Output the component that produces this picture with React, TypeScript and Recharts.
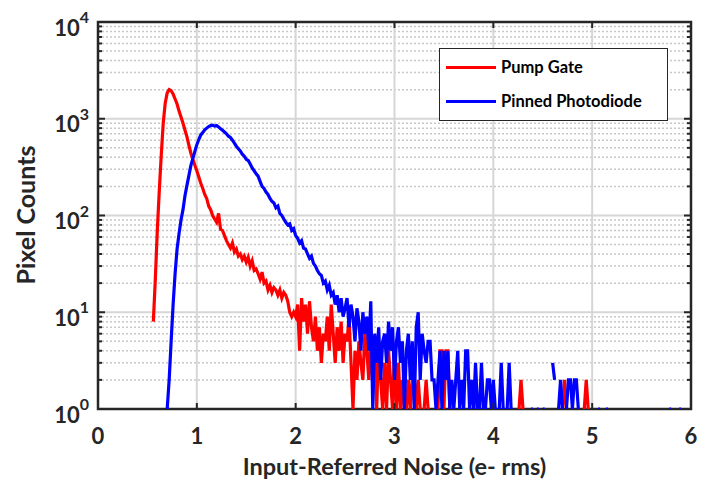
import React from "react";
import { LineChart, Line, XAxis, YAxis, CartesianGrid, Legend, ReferenceArea } from "recharts";

// histogram bins (e- rms), 0.02 wide
const binWidth = 0.02;
const pumpGateFirstBin = 0.56;
const photodiodeFirstBin = 0.7;
const lastBin = 5.9;

const seriesNames = ["Pump Gate", "Pinned Photodiode"];

// null = empty bin (no line drawn on the log axis)
const pumpGateCounts = [
  8, 22, 70, 180, 420, 900, 1450, 1850, 2000, 1950,
  1800, 1600, 1420, 1200, 1040, 900, 760, 650, 530, 440,
  380, 330, 290, 250, 215, 190, 165, 150, 125, 115,
  100, 92, 85, 105, 72, 70, 62, 55, 50, 46,
  52, 42, 45, 38, 40, 35, 38, 33, 37, 30,
  34, 27, 28, 25, 22, 26, 20, 21, 17, 19,
  16, 18, 17, 15, 17, 14, 16, 15, 13, 10,
  9, 10, 9, 12, 4, 14, 8, 12, 6, 13,
  7, 5, 9, 4, 7, 3, 6, 5, 9, 4,
  12, 6, 3, 7, 4, 8, 3, 6, 5, 9,
  3, 1, 4, 2, 5, 3, 2, 6, 4, 2,
  5, 2, 3, 1, 5, 2, 1, 3, 1, 4,
  2, 1, 4, 1, 3, 1, 2, 1, 1, 2,
  1, 2, 2, 1, 2, 1, null, 1, 2, 1,
  null, null, null, null, 1, 4, 4, 1, 4, 4,
  1, null, null, null, null, null, null, null, null, null,
  null, null, 1, 2, 1, null, null, null, null, null,
  null, null, null, null, null, null, null, null, null, null,
  null, null, null, null, null, 1, 2, 1, null, null,
  null, null, null, null, null, null, null, null, null, null,
  null, null, null, null, null, null, null, 1, 2, 1,
  null, null, null, null, null, null, null, null, 1, 2,
  1,
];

const photodiodeCounts = [
  1, 2, 5, 12, 25, 45, 65, 90, 115, 160,
  205, 260, 330, 390, 460, 540, 610, 680, 720, 770,
  800, 830, 850, 860, 840, 850, 820, 790, 760, 730,
  700, 660, 640, 600, 560, 520, 490, 465, 430, 410,
  380, 370, 340, 310, 290, 270, 255, 225, 200, 190,
  175, 165, 150, 140, 135, 120, 125, 105, 100, 92,
  85, 80, 82, 70, 73, 62, 58, 52, 55, 46,
  45, 40, 36, 38, 32, 30, 27, 25, 24, 20,
  21, 17, 19, 15, 16, 12, 15, 10, 14, 9,
  11, 14, 7, 12, 9, 5, 11, 8, 4, 10,
  6, 9, 4, 13, 1, 6, 3, 7, 2, 5,
  6, 3, 8, 4, 7, 2, 5, 7, 3, 5,
  1, 4, 6, 2, 5, 1, 7, 10, 2, 6,
  4, 3, 5, 5, 2, 2, 1, 2, 4, 1,
  4, 2, 4, 1, 2, 1, 2, 4, 1, 2,
  1, 4, 4, 1, 2, 1, 3, 1, 1, 3,
  1, 1, 2, 2, 1, 2, 1, null, 1, 3,
  1, null, 1, 3, 1, null, null, null, null, null,
  null, null, null, null, 1, 1, null, 1, 1, null,
  1, 1, null, null, null, 3, 2, null, 1, 2,
  1, null, 1, 2, 2, 1, 2, 2, 1, null,
  null, null, null, null, null, null, null, null, 1, 1,
  null, null, 1, 1, null, null, null, null, null, null,
  null, null, null, null, null, null, null, null, null, null,
  null, null, null, null, null, null, null, null, null, null,
  null, null, null, null, 1, 1, null, null, null, 1,
  1,
];

const xTicks = [0, 1, 2, 3, 4, 5, 6];
const yMajorTicks = [1, 10, 100, 1000, 10000];
const yMinorTicks = [
  2, 3, 4, 5, 6, 7, 8, 9,
  20, 30, 40, 50, 60, 70, 80, 90,
  200, 300, 400, 500, 600, 700, 800, 900,
  2000, 3000, 4000, 5000, 6000, 7000, 8000, 9000,
];

const nBins = Math.round((lastBin - pumpGateFirstBin) / binWidth) + 1;
const photodiodeOffset = Math.round((photodiodeFirstBin - pumpGateFirstBin) / binWidth);
const data = Array.from({ length: nBins }, (_, i) => ({
  x: Number((pumpGateFirstBin + i * binWidth).toFixed(2)),
  pump: pumpGateCounts[i] ?? null,
  pinned: photodiodeCounts[i - photodiodeOffset] ?? null,
}));

const ink = "#262626";
const font = "Lato, 'Open Sans', sans-serif";
const plotLeft = 98;
const plotRight = 691;
const plotTop = 22;
const plotBottom = 409;

const YTick = (props: any) => {
  const { y, payload } = props;
  const v = payload.value;
  const major = yMajorTicks.includes(v);
  const len = major ? 7 : 4;
  return (
    <g>
      <line x1={plotLeft} x2={plotLeft + len} y1={y} y2={y} stroke={ink} strokeWidth={2} />
      <line x1={plotRight - len} x2={plotRight} y1={y} y2={y} stroke={ink} strokeWidth={2} />
      {major && (
        <text x={89} y={y + 13.5} textAnchor="end" fill={ink} fontFamily={font} fontWeight={700} fontSize={22}>
          10
          <tspan dy={-12.5} fontSize={16}>
            {Math.round(Math.log10(v))}
          </tspan>
        </text>
      )}
    </g>
  );
};

const XTick = (props: any) => {
  const { x, payload } = props;
  return (
    <g>
      <line x1={x} x2={x} y1={plotBottom} y2={plotBottom - 6} stroke={ink} strokeWidth={2} />
      <line x1={x} x2={x} y1={plotTop} y2={plotTop + 6} stroke={ink} strokeWidth={2} />
      <text x={x} y={444} textAnchor="middle" fill={ink} fontFamily={font} fontWeight={700} fontSize={22}>
        {payload.value}
      </text>
    </g>
  );
};

const LegendBox = ({ payload }: any) => {
  const items = [...(payload || [])].sort(
    (a: any, b: any) => seriesNames.indexOf(a.value) - seriesNames.indexOf(b.value)
  );
  return (
    <div
      style={{
        width: 229,
        height: 73,
        boxSizing: "border-box",
        border: `1.5px solid ${ink}`,
        background: "#fff",
        padding: "1px 0 0 6px",
        fontFamily: font,
        fontWeight: 700,
        fontSize: 16.5,
        color: "#000",
      }}
    >
      {items.map((entry: any) => (
        <div key={entry.value} style={{ display: "flex", alignItems: "center", height: 34 }}>
          <span style={{ display: "inline-block", width: 50, height: 3, background: entry.color, marginRight: 5 }} />
          <span>{entry.value}</span>
        </div>
      ))}
    </div>
  );
};

export default function App() {
  return (
    <div style={{ position: "absolute", left: 0, top: 0, background: "#fff" }}>
      <LineChart width={711} height={489} data={data} margin={{ top: 22, right: 20, bottom: 0, left: 0 }}>
        <CartesianGrid vertical={false} horizontalValues={yMinorTicks} stroke="#c8c8c8" strokeDasharray="2 2" strokeWidth={1.5} />
        <CartesianGrid vertical={false} horizontalValues={yMajorTicks} stroke="#d6d6d6" strokeWidth={2} />
        <CartesianGrid horizontal={false} verticalValues={xTicks} stroke="#d6d6d6" strokeWidth={2} />
        <XAxis
          dataKey="x"
          type="number"
          domain={[0, 6]}
          ticks={xTicks}
          interval={0}
          tick={XTick}
          tickLine={false}
          axisLine={false}
          height={80}
          allowDataOverflow
          label={{
            value: "Input-Referred Noise (e- rms)",
            position: "insideBottom",
            offset: 14,
            fill: ink,
            fontSize: 23.5,
            fontWeight: 700,
            fontFamily: font,
          }}
        />
        <YAxis
          type="number"
          scale="log"
          domain={[1, 10000]}
          ticks={[...yMajorTicks, ...yMinorTicks]}
          interval={0}
          tick={YTick}
          tickLine={false}
          axisLine={false}
          width={98}
          allowDataOverflow
          label={{
            content: () => (
              <text
                transform="translate(35 215) rotate(-90)"
                textAnchor="middle"
                fill={ink}
                fontFamily={font}
                fontWeight={700}
                fontSize={25}
              >
                Pixel Counts
              </text>
            ),
          }}
        />
        <ReferenceArea x1={0} x2={6} y1={1} y2={10000} fill="none" stroke={ink} strokeWidth={2.5} ifOverflow="visible" />
        <Line
          name={seriesNames[0]}
          dataKey="pump"
          type="linear"
          stroke="#ff0000"
          strokeWidth={3.2}
          dot={false}
          activeDot={false}
          connectNulls={false}
          isAnimationActive={false}
        />
        <Line
          name={seriesNames[1]}
          dataKey="pinned"
          type="linear"
          stroke="#0000ff"
          strokeWidth={3.2}
          dot={false}
          activeDot={false}
          connectNulls={false}
          isAnimationActive={false}
        />
        <Legend
          layout="vertical"
          align="center"
          verticalAlign="middle"
          content={LegendBox}
          wrapperStyle={{ left: 439, top: 48, width: 229, height: 73 }}
        />
      </LineChart>
    </div>
  );
}
